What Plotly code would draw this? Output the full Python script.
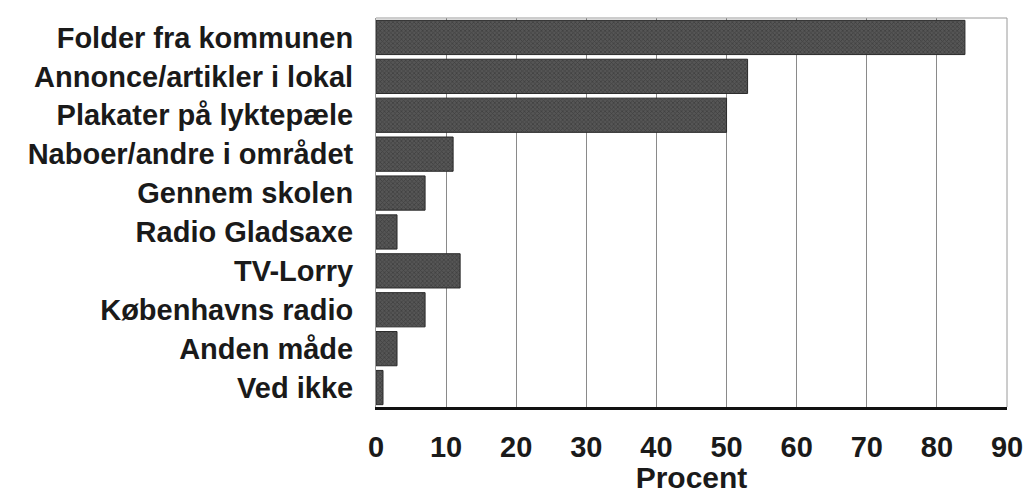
import plotly.graph_objects as go

categories = [
    "Folder fra kommunen",
    "Annonce/artikler i lokal",
    "Plakater på lyktepæle",
    "Naboer/andre i området",
    "Gennem skolen",
    "Radio Gladsaxe",
    "TV-Lorry",
    "Københavns radio",
    "Anden måde",
    "Ved ikke",
]
values = [84, 53, 50, 11, 7, 3, 12, 7, 3, 1]
x_ticks = [0, 10, 20, 30, 40, 50, 60, 70, 80, 90]

font_family = "Liberation Sans, Arial, sans-serif"

fig = go.Figure(
    go.Bar(
        x=values,
        y=categories,
        orientation="h",
        marker=dict(
            color="#565656",
            line=dict(color="#2a2a2a", width=1),
            pattern=dict(shape="x", fgcolor="#2a2a2a", size=3, solidity=0.45),
        ),
        width=0.88,
        hoverinfo="x+y",
    )
)

fig.update_layout(
    width=1031,
    height=494,
    margin=dict(l=376, r=24, t=18, b=87),
    paper_bgcolor="white",
    plot_bgcolor="white",
    showlegend=False,
    font=dict(family=font_family, color="#1a1a1a"),
    xaxis=dict(
        range=[0, 90],
        automargin=False,
        tickvals=x_ticks,
        ticktext=[str(v) for v in x_ticks],
        tickfont=dict(size=29, family=font_family, color="#1a1a1a", weight="bold"),
        showgrid=True,
        gridcolor="#8a8a8a",
        gridwidth=1,
        zeroline=False,
        showline=True,
        linecolor="#111111",
        linewidth=3,
        mirror=False,
        ticks="",
        ticklabelstandoff=12,
        title=dict(
            text="<b>Procent</b>",
            font=dict(size=30, family=font_family, color="#1a1a1a"),
            standoff=8,
        ),
    ),
    yaxis=dict(
        autorange="reversed",
        automargin=False,
        tickfont=dict(size=29, family=font_family, color="#1a1a1a", weight="bold"),
        showgrid=False,
        showline=True,
        linecolor="#9a9a9a",
        linewidth=1,
        ticks="",
        ticklabelstandoff=16,
    ),
    shapes=[
        dict(type="line", xref="paper", yref="paper", x0=0, x1=1, y0=1, y1=1,
             line=dict(color="#9a9a9a", width=1)),
        dict(type="line", xref="paper", yref="paper", x0=1, x1=1, y0=0, y1=1,
             line=dict(color="#9a9a9a", width=1)),
    ],
)

fig.write_html(
    "out.html",
    config={"displayModeBar": False},
    post_script="document.body.style.margin='0';document.body.style.padding='0';",
)
